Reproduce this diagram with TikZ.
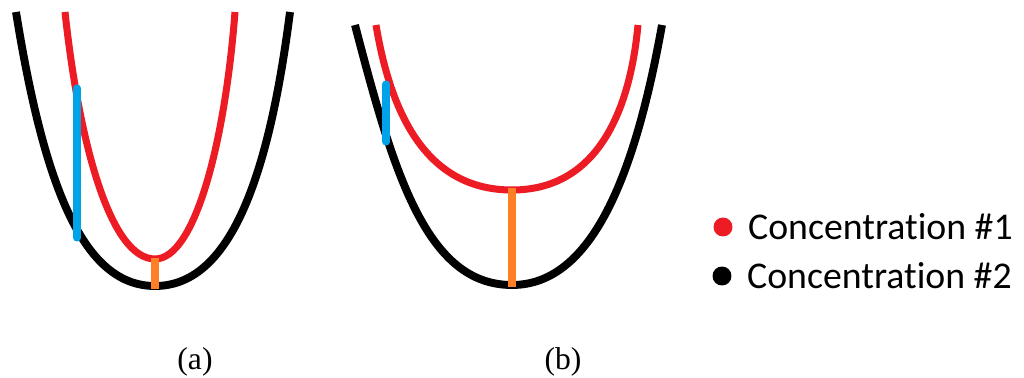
\documentclass[tikz,border=0pt]{standalone}
\usepackage{fontspec}
\setmainfont{Liberation Serif}
\newfontfamily\legendfont[Ligatures=NoCommon]{Carlito}
\usetikzlibrary{positioning}
\definecolor{curvered}{RGB}{237,28,36}
\definecolor{gapblue}{RGB}{0,162,232}
\definecolor{gaporange}{RGB}{255,127,39}
\tikzset{
  concone/.style={curvered, line width=4pt},
  conctwo/.style={black, line width=4.5pt},
  bluegap/.style={gapblue, line width=4pt, line cap=round},
  orangegap/.style={gaporange, line width=4pt},
  legdot/.style={circle, fill, inner sep=0pt, minimum size=10.8pt},
  legtext/.style={font=\legendfont\fontsize{21.5}{25}\selectfont, inner sep=0pt},
  sublabel/.style={font=\fontsize{18}{21}\selectfont, inner sep=0pt}
}
\begin{document}
\begin{tikzpicture}[x=0.02cm, y=-0.02cm]
\useasboundingbox (0,0) rectangle (1024,378);
%% curves (a)
\draw[conctwo] (16,12) .. controls (45,192) and (85,286) .. (155,286)
  .. controls (225,286) and (267,192) .. (290,12);
\draw[concone] (65,12) .. controls (79,142) and (110,259) .. (155,259)
  .. controls (195,259) and (225,142) .. (235,12);
%% curves (b)
\draw[conctwo] (355,25) .. controls (394,175) and (427,285) .. (512,285)
  .. controls (592,285) and (635,175) .. (662,25);
\draw[concone] (376,25) .. controls (391,115) and (427,190) .. (512,190)
  .. controls (598,190) and (630,110) .. (638,25);
%% gaps
\coordinate (atop) at (77,88);
\coordinate (abot) at (77,238);
\coordinate (amin1) at (155,258);
\coordinate (amin2) at (155,289);
\coordinate (btop) at (386,84);
\coordinate (bbot) at (386,142);
\coordinate (bmin1) at (512,188);
\coordinate (bmin2) at (512,287);
\draw[bluegap] (atop) -- (abot);
\draw[orangegap] (amin1) -- (amin2);
\draw[bluegap] (btop) -- (bbot);
\draw[orangegap] (bmin1) -- (bmin2);
%% legend
\node[legdot, curvered] (dotone) at (723,227) {};
\node[legdot, black] (dottwo) at (722,276) {};
\node[legtext, right=0.3cm of dotone] (textone) {Concentration \#1};
\node[legtext, right=0.3cm of dottwo] (texttwo) {Concentration \#2};
%% labels
\node[sublabel] (laba) at (195,362) {(a)};
\node[sublabel] (labb) at (563,362) {(b)};
\end{tikzpicture}
\end{document}
